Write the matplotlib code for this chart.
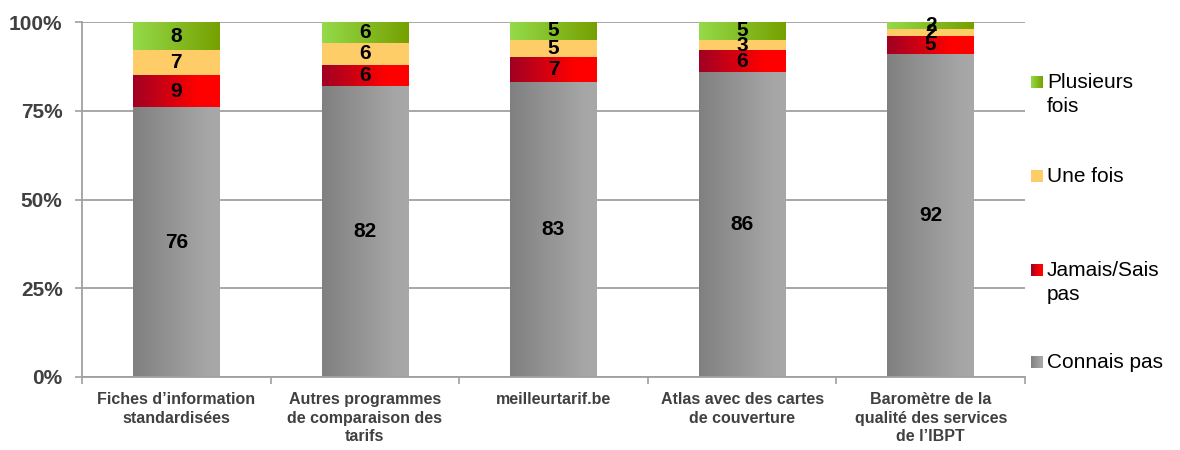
import numpy as np
import matplotlib
matplotlib.use("Agg")
import matplotlib.pyplot as plt
from matplotlib.colors import LinearSegmentedColormap
from matplotlib.ticker import FixedLocator, PercentFormatter

CATEGORIES = [
    "Fiches d\u2019information\nstandardisées",
    "Autres programmes\nde comparaison des\ntarifs",
    "meilleurtarif.be",
    "Atlas avec des cartes\nde couverture",
    "Baromètre de la\nqualité des services\nde l\u2019IBPT",
]
SERIES = ["Connais pas", "Jamais/Sais\npas", "Une fois", "Plusieurs\nfois"]
CONNAIS_PAS = [76, 82, 83, 86, 92]
JAMAIS = [9, 6, 7, 6, 5]
UNE_FOIS = [7, 6, 5, 3, 2]
PLUSIEURS = [8, 6, 5, 5, 2]
Y_TICKS = [0, 25, 50, 75, 100]

# left colour -> right colour of each horizontal gradient
GRADIENTS = [
    [(0.0, "#808080"), (0.85, "#a6a6a6"), (1.0, "#a8a8a8")],
    [(0.0, "#a00024"), (0.75, "#ff0000"), (1.0, "#ff0000")],
    [(0.0, "#fecd68"), (1.0, "#fecd68")],
    [(0.0, "#94da4a"), (1.0, "#76a000")],
]

plt.rcParams["font.family"] = ["Liberation Sans", "DejaVu Sans"]

fig = plt.figure(figsize=(11.8, 4.5), dpi=100)
ax = fig.add_axes([82 / 1180, 1 - 377 / 450, (1025 - 82) / 1180, (377 - 22) / 450])

data = np.array([CONNAIS_PAS, JAMAIS, UNE_FOIS, PLUSIEURS], dtype=float)
share = data / data.sum(axis=0) * 100
x = np.arange(len(CATEGORIES))
width = 0.46

grad = np.linspace(0, 1, 256).reshape(1, -1)
bottom = np.zeros(len(CATEGORIES))
for k, name in enumerate(SERIES):
    cmap = LinearSegmentedColormap.from_list(f"g{k}", GRADIENTS[k])
    bars = ax.bar(x, share[k], width, bottom=bottom, color="none", edgecolor="none", zorder=2)
    for rect, raw, val, b in zip(bars, data[k], share[k], bottom):
        x0, y0 = rect.get_x(), rect.get_y()
        ax.imshow(grad, extent=[x0, x0 + rect.get_width(), y0, y0 + rect.get_height()],
                  aspect="auto", cmap=cmap, zorder=2, interpolation="bilinear")
        ax.text(x0 + rect.get_width() / 2, b + val / 2, f"{raw:.0f}", ha="center", va="center",
                fontsize=15, fontweight="bold", color="black", zorder=3)
    bottom += share[k]

ax.set_xlim(-0.5, len(CATEGORIES) - 0.5)
ax.set_ylim(0, 100)

ax.set_yticks(Y_TICKS)
ax.yaxis.set_major_formatter(PercentFormatter(decimals=0))
ax.yaxis.grid(True, color="#a0a0a0", linewidth=1.3, zorder=0)
ax.set_axisbelow(True)

ax.set_xticks(x)
ax.set_xticklabels(CATEGORIES, fontsize=11.5, fontweight="bold", color="#404040",
                   linespacing=1.28)
ax.xaxis.set_minor_locator(FixedLocator(np.arange(-0.5, len(CATEGORIES), 1.0)))
ax.tick_params(axis="x", which="major", length=0, pad=11)
ax.tick_params(axis="x", which="minor", length=5, width=1.2, color="#a0a0a0", direction="out")
ax.tick_params(axis="y", length=5, width=1.2, color="#a0a0a0", direction="out", pad=9,
               labelsize=15, labelcolor="#404040")
for lab in ax.get_yticklabels():
    lab.set_fontweight("bold")

for side in ("top", "right"):
    ax.spines[side].set_visible(False)
for side in ("left", "bottom"):
    ax.spines[side].set_color("#a0a0a0")
    ax.spines[side].set_linewidth(1.3)

# legend, drawn by hand so the swatch sits on the first text line
legend_y = [82, 176, 270, 362]
for k in range(len(SERIES) - 1, -1, -1):
    row = len(SERIES) - 1 - k
    yc = legend_y[row]
    sw = fig.add_axes([1031 / 1180, 1 - (yc + 6) / 450, 12 / 1180, 12 / 450])
    sw.imshow(grad, aspect="auto", cmap=LinearSegmentedColormap.from_list(f"l{k}", GRADIENTS[k]),
              extent=[0, 1, 0, 1])
    sw.set_axis_off()
    fig.text(1047 / 1180, 1 - (yc - 9) / 450, SERIES[k], ha="left", va="top",
             fontsize=15, color="black", linespacing=1.3)

fig.savefig("out.png", dpi=100)
